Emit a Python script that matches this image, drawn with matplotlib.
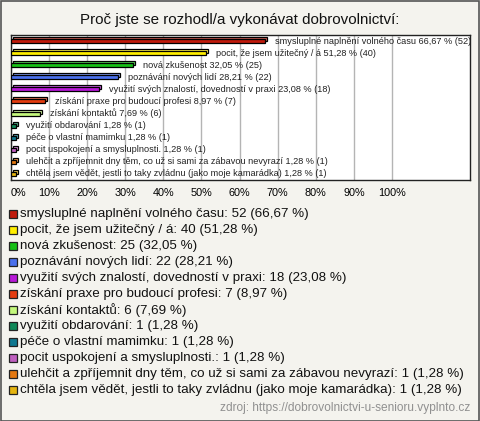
import matplotlib
matplotlib.use("Agg")
import matplotlib.pyplot as plt
import matplotlib.transforms as mtransforms
import matplotlib.colors as mc
from matplotlib.patches import Rectangle

plt.rcParams['font.family'] = ['Liberation Sans', 'DejaVu Sans']

title = "Proč jste se rozhodl/a vykonávat dobrovolnictví:"
categories = [
    "smysluplné naplnění volného času",
    "pocit, že jsem užitečný / á",
    "nová zkušenost",
    "poznávání nových lidí",
    "využití svých znalostí, dovedností v praxi",
    "získání praxe pro budoucí profesi",
    "získání kontaktů",
    "využití obdarování",
    "péče o vlastní mamimku",
    "pocit uspokojení a smysluplnosti.",
    "ulehčit a zpříjemnit dny těm, co už si sami za zábavou nevyrazí",
    "chtěla jsem vědět, jestli to taky zvládnu (jako moje kamarádka)",
]
counts = [52, 40, 25, 22, 18, 7, 6, 1, 1, 1, 1, 1]
percents = [66.67, 51.28, 32.05, 28.21, 23.08, 8.97, 7.69, 1.28, 1.28, 1.28, 1.28, 1.28]
colors = ["#c01a0c", "#ffee00", "#16c016", "#4a70ec", "#b818d8", "#e43c10",
          "#c4f87c", "#108858", "#107890", "#c060c0", "#e47810", "#e4b410"]
xticks = [0, 10, 20, 30, 40, 50, 60, 70, 80, 90, 100]
source = "zdroj: https://dobrovolnictvi-u-senioru.vyplnto.cz"

def fmt(v):
    return f"{v:.2f}".replace(".", ",")

def lighten(c, f=0.3):
    r, g, b = mc.to_rgb(c)
    return (r + (1 - r) * f, g + (1 - g) * f, b + (1 - b) * f)

W, H = 480, 421
fig = plt.figure(figsize=(W / 100, H / 100), dpi=100)
fig.patch.set_facecolor("#f4f3ee")
fig.add_artist(Rectangle((0.5 / W, 0.5 / H), 1 - 1.5 / W, 1 - 1.5 / H, transform=fig.transFigure,
                         fill=False, edgecolor="#555555", linewidth=1.2))

fig.text(0.5, 1 - 20 / H, title, ha="center", va="center", fontsize=10.9, color="#111111")

ax = fig.add_axes([11 / W, 1 - 180 / H, 459 / W, 145 / H])
ax.set_facecolor("white")
n = len(categories)
ax.set_xlim(0, 120.5)
ax.set_ylim(n - 0.5, -0.5)
ax.set_xticks(xticks)
ax.set_xticklabels([f"{t}%" for t in xticks], fontsize=7.8)
ax.get_xticklabels()[0].set_horizontalalignment("left")
ax.tick_params(axis="x", length=0, pad=6)
ax.set_yticks([])
ax.grid(axis="x", color="#b4b4b4", linewidth=1)
ax.set_axisbelow(True)
for s in ax.spines.values():
    s.set_color("#222222")
    s.set_linewidth(1)

ys = list(range(n))
h = 0.33
shift = mtransforms.ScaledTranslation(2.0 / 100, 2.0 / 100, fig.dpi_scale_trans)
for y, v, c in zip(ys, percents, colors):
    ax.barh(y, v, height=h, color=lighten(c), edgecolor="black", linewidth=0.9,
            transform=ax.transData + shift, zorder=2)
    ax.barh(y, v, height=h, color=c, edgecolor="black", linewidth=0.9, zorder=3)
    ax.annotate(f"{categories[y]} {fmt(v)} % ({counts[y]})", (v, y), xytext=(7, 0),
                textcoords="offset points", va="center", ha="left", fontsize=6.6,
                color="#222222", zorder=4)

# legend
y0 = 214
for i, (cat, cnt, p, c) in enumerate(zip(categories, counts, percents, colors)):
    yy = y0 + i * 16
    fig.add_artist(Rectangle((9 / W, 1 - (yy + 4) / H), 8 / W, 8 / H, transform=fig.transFigure,
                             facecolor=c, edgecolor="#222222", linewidth=0.9))
    fig.text(20 / W, 1 - yy / H, f"{cat}: {cnt} ({fmt(p)} %)", ha="left", va="center",
             fontsize=9.6, color="#111111")

fig.text(470 / W, 1 - 408 / H, source, ha="right", va="center", fontsize=8.6, color="#909090")

fig.savefig("out.png", dpi=100, facecolor=fig.get_facecolor())
